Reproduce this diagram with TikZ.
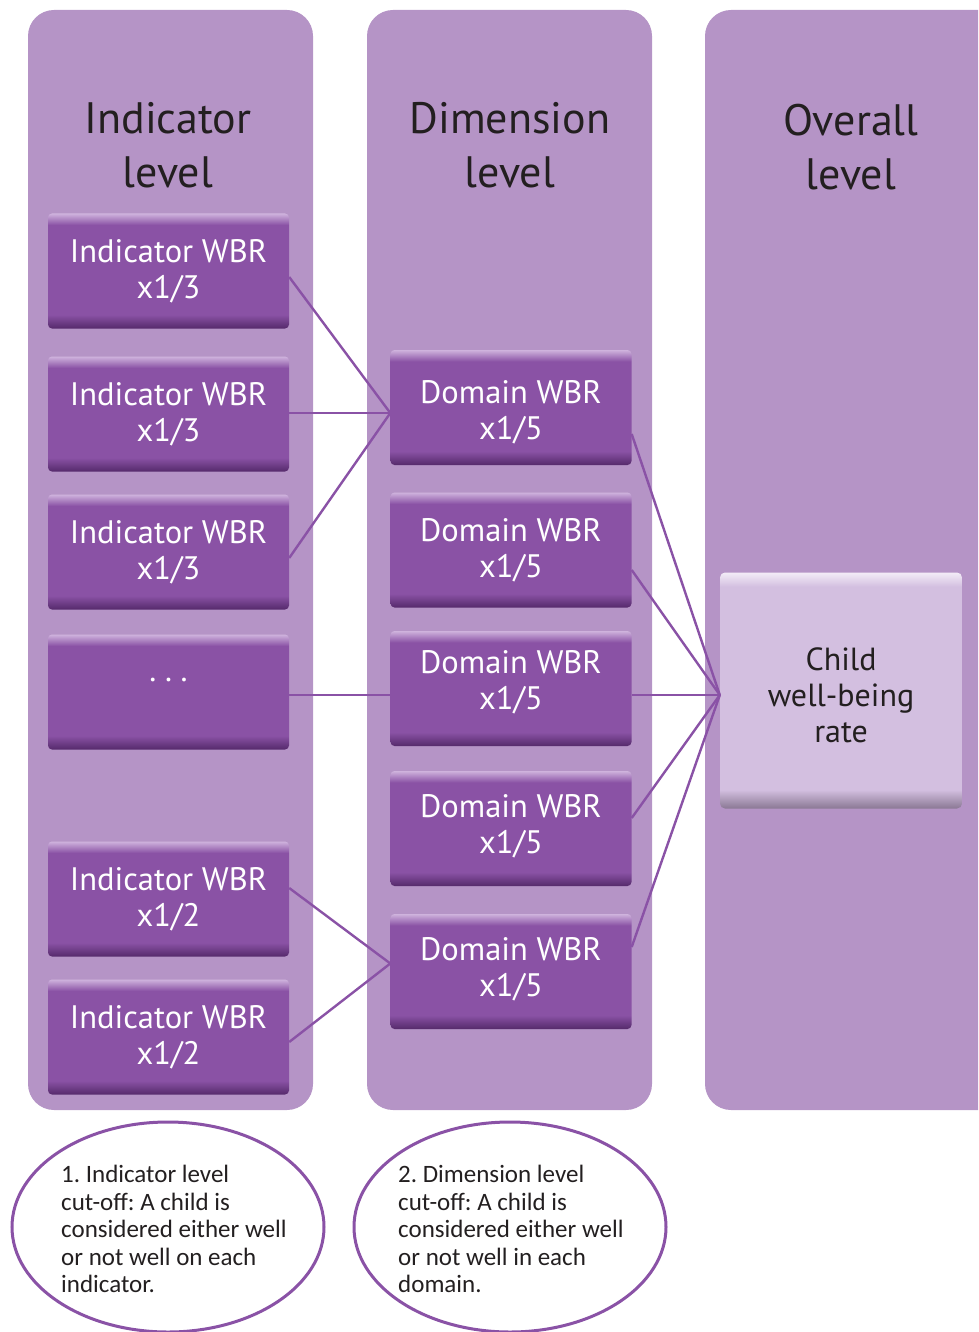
\documentclass[tikz,border=0pt]{standalone}
\usepackage{fontspec}
\setmainfont{PT Sans}
\newfontfamily\calib{Carlito}
\usetikzlibrary{shapes.geometric}
\frenchspacing
\definecolor{colbg}{HTML}{B594C6}
\definecolor{boxc}{HTML}{8A52A5}
\definecolor{boxlt}{HTML}{CFB3DD}
\definecolor{boxdk}{HTML}{552A6B}
\definecolor{childc}{HTML}{D3BFE0}
\definecolor{childlt}{HTML}{F3ECF7}
\definecolor{childdk}{HTML}{8A7894}
\definecolor{linec}{HTML}{8A52A6}
\definecolor{txtdk}{HTML}{231F20}
\pgfdeclareverticalshading{bevelbox}{100bp}{color(0bp)=(boxdk); color(25bp)=(boxdk); color(31bp)=(boxc); color(70bp)=(boxc); color(75bp)=(boxlt); color(100bp)=(boxlt)}
\pgfdeclareverticalshading{bevelchild}{100bp}{color(0bp)=(childdk); color(25bp)=(childdk); color(29bp)=(childc); color(72bp)=(childc); color(75bp)=(childlt); color(100bp)=(childlt)}
\tikzset{
  colfill/.style={fill=colbg, rounded corners=26pt},
  wbrtext/.style={align=center, text=white, font=\fontsize{32.5}{36}\selectfont, inner sep=0pt},
  wbr/.style={rectangle, rounded corners=4pt, shading=bevelbox, minimum width=241pt, minimum height=115pt, inner sep=0pt, wbrtext},
  childbox/.style={rectangle, rounded corners=5pt, shading=bevelchild, minimum width=242pt, minimum height=236pt, inner sep=0pt},
  childtext/.style={align=center, text=txtdk, font=\fontsize{32}{36}\selectfont, inner sep=0pt},
  head/.style={align=center, text=txtdk, font=\fontsize{44}{54}\selectfont},
  conn/.style={draw=linec, line width=2.4pt},
  note/.style={ellipse, draw=linec, line width=3pt, minimum width=312pt, minimum height=210pt, inner sep=0pt},
  notetext/.style={anchor=west, align=left, inner sep=0pt, text=txtdk, font=\calib\frenchspacing\fontsize{25}{27.5}\selectfont}
}
\begin{document}
\begin{tikzpicture}[x=1pt,y=-1pt]
\useasboundingbox (0,0) rectangle (978,1332);
\clip (0,0) rectangle (978,1332);
% columns
\fill[colfill] (28,10) rectangle (313,1110);
\fill[colfill] (367,10) rectangle (652,1110);
\fill[colfill] (705,10) rectangle (1010,1110);
% headings
\node[head] (h1) at (168,145) {Indicator\\level};
\node[head] (h2) at (510,145) {Dimension\\level};
\node[head] (h3) at (851,147) {Overall\\level};
% indicator boxes
\node[wbr] (i1) at (168.5,271) {Indicator WBR\\x1/3};
\node[wbr] (i2) at (168.5,414) {Indicator WBR\\x1/3};
\node[wbr] (i3) at (168.5,552) {Indicator WBR\\x1/3};
\node[wbr] (i4) at (168.5,692) {\raisebox{24pt}{. . .}};
\node[wbr] (i5) at (168.5,899) {Indicator WBR\\x1/2};
\node[wbr] (i6) at (168.5,1037) {Indicator WBR\\x1/2};
% domain boxes
\node[wbr, label={[wbrtext, yshift=-5pt]center:{Domain WBR\\x1/5}}] (d1) at (511,407.5) {};
\node[wbr] (d2) at (511,550) {Domain WBR\\x1/5};
\node[wbr, label={[wbrtext, yshift=6pt]center:{Domain WBR\\x1/5}}] (d3) at (511,688.5) {};
\node[wbr, label={[wbrtext, yshift=2pt]center:{Domain WBR\\x1/5}}] (d4) at (511,828.5) {};
\node[wbr, label={[wbrtext, yshift=2.5pt]center:{Domain WBR\\x1/5}}] (d5) at (511,971.5) {};
% overall
\node[childbox, label={[childtext, yshift=-5pt]center:{Child\\well-being\\rate}}] (c) at (841,690.5) {};
% connectors indicator -> domain
\draw[conn] ([yshift=-6pt]i1.east) -- ([yshift=-5.5pt]d1.west);
\draw[conn] ([yshift=1pt]i2.east) -- ([yshift=-5.5pt]d1.west);
\draw[conn] ([yshift=-6pt]i3.east) -- ([yshift=-5.5pt]d1.west);
\draw[conn] ([yshift=-3pt]i4.east) -- ([yshift=-6.5pt]d3.west);
\draw[conn] ([yshift=11pt]i5.east) -- ([yshift=8pt]d5.west);
\draw[conn] ([yshift=-5pt]i6.east) -- ([yshift=8pt]d5.west);
% connectors domain -> overall
\draw[conn] ([yshift=-26.5pt]d1.east) -- ([yshift=-4.5pt]c.west);
\draw[conn] ([yshift=-20pt]d2.east) -- ([yshift=-4.5pt]c.west);
\draw[conn] ([yshift=-6.5pt]d3.east) -- ([yshift=-4.5pt]c.west);
\draw[conn] ([yshift=10.5pt]d4.east) -- ([yshift=-4.5pt]c.west);
\draw[conn] ([yshift=24.5pt]d5.east) -- ([yshift=-4.5pt]c.west);
% notes
\node[note] (e1) at (168,1227) {};
\node[notetext] (t1) at ([xshift=-107pt,yshift=-2pt]e1.center) {1. Indicator level\\cut-off: A child is\\considered either well\\or not well on each\\indicator.};
\node[note] (e2) at (510,1227) {};
\node[notetext] (t2) at ([xshift=-112pt,yshift=-2pt]e2.center) {2. Dimension level\\cut-off: A child is\\considered either well\\or not well in each\\domain.};
\end{tikzpicture}
\end{document}
